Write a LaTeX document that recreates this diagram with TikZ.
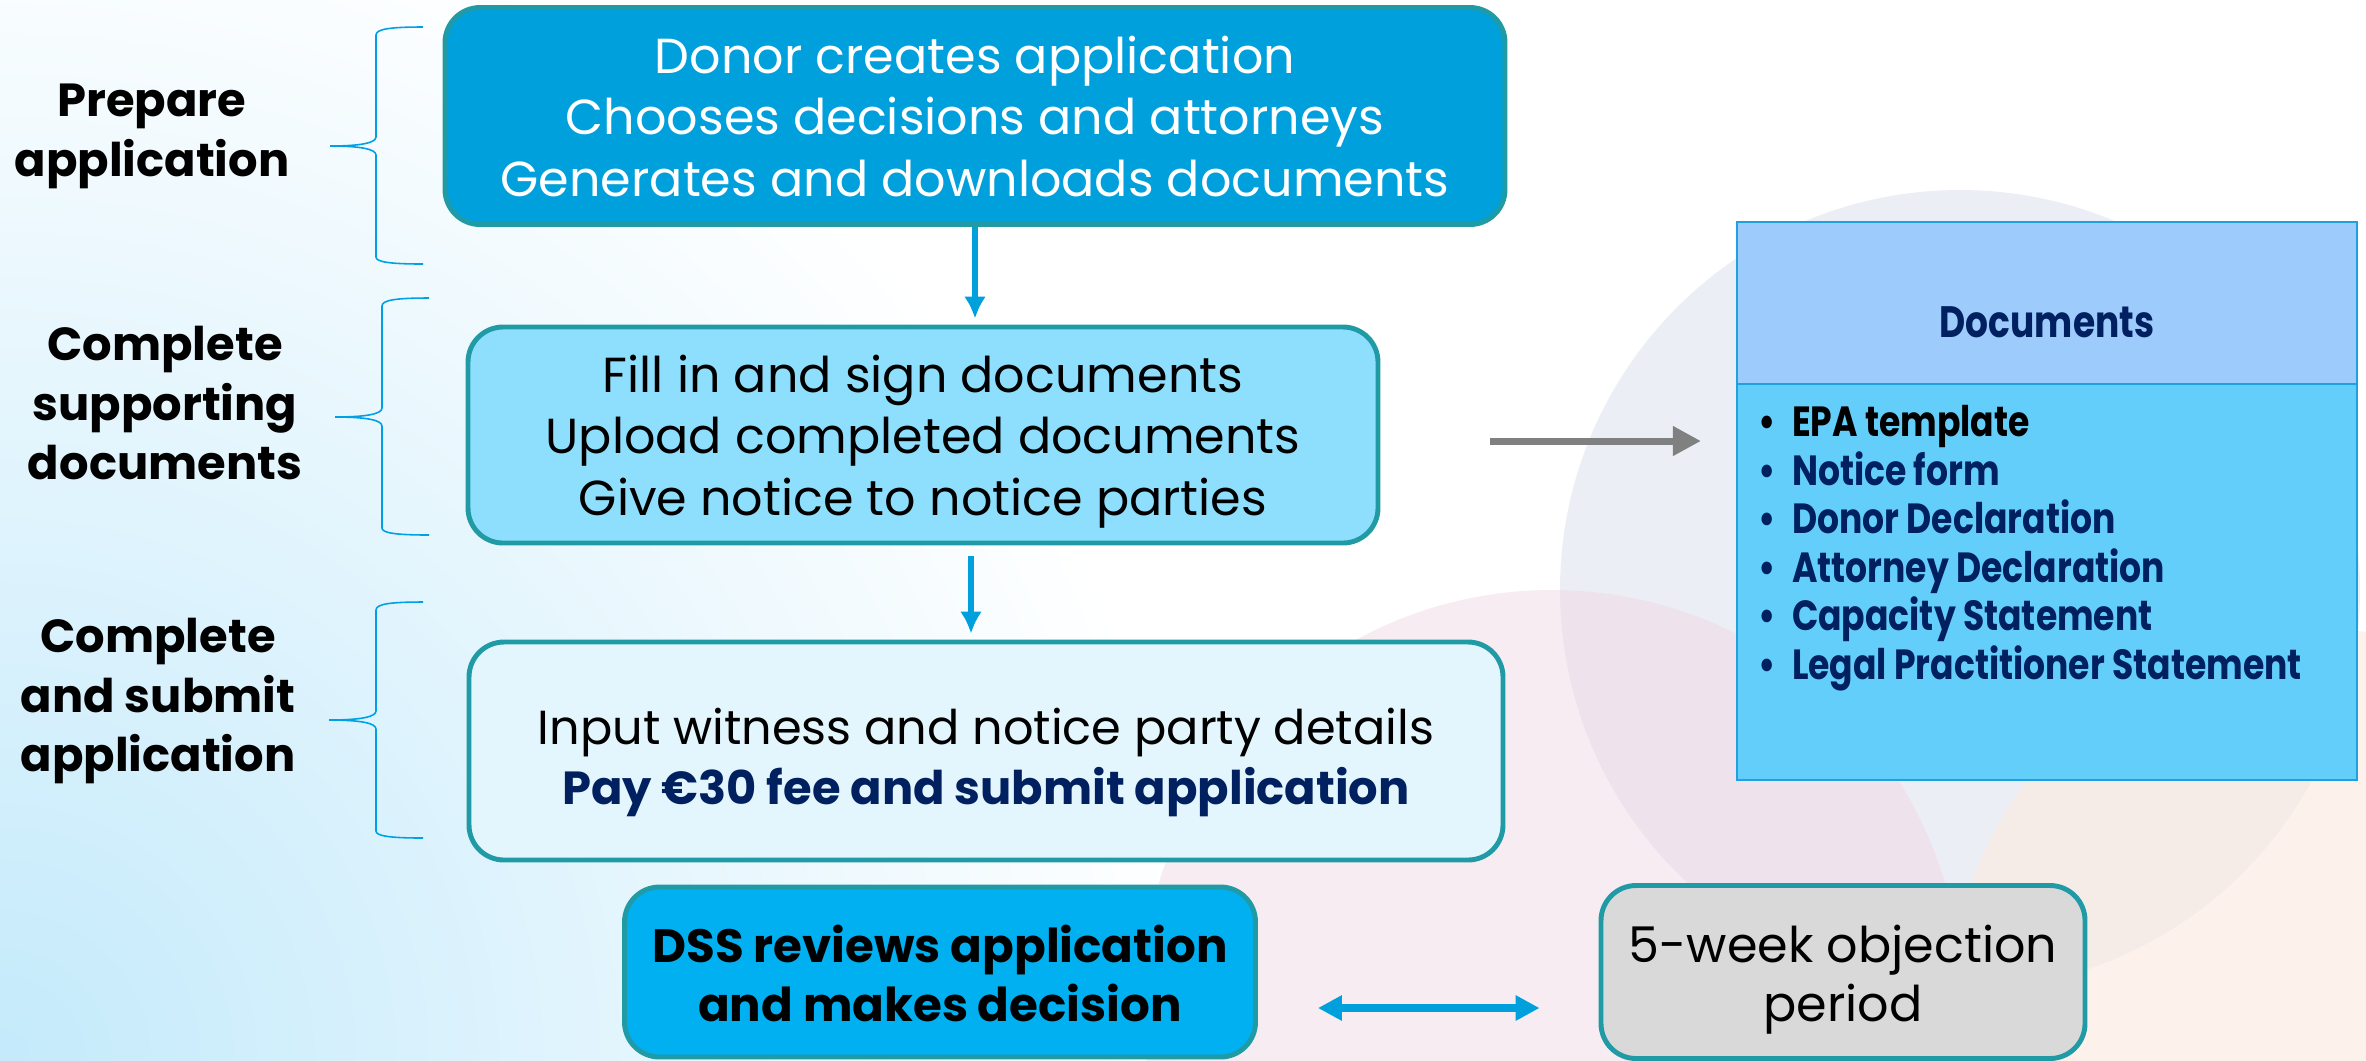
\documentclass[tikz,border=0pt]{standalone}
\usepackage{fontspec}
\setmainfont{Poppins}
\newfontfamily\listfont[FakeStretch=0.82]{Poppins}
\usetikzlibrary{shapes,arrows.meta,positioning}

\definecolor{boxedge}{RGB}{32,155,166}
\definecolor{deepblue}{RGB}{0,160,220}
\definecolor{paleblue}{RGB}{142,223,253}
\definecolor{iceblue}{RGB}{227,245,253}
\definecolor{dssblue}{RGB}{0,176,240}
\definecolor{greyfill}{RGB}{217,217,217}
\definecolor{navy}{RGB}{0,32,96}
\definecolor{headblue}{RGB}{157,203,251}
\definecolor{listblue}{RGB}{100,206,250}
\definecolor{docedge}{RGB}{30,160,225}
\definecolor{bracecol}{RGB}{0,160,230}
\definecolor{bgblue}{RGB}{196,234,251}
\definecolor{bgcircle}{RGB}{228,232,243}
\definecolor{bgpink}{RGB}{240,218,228}
\definecolor{bgpeach}{RGB}{252,234,222}

% pushes the lines of a box down a little
\newcommand{\topgap}[1]{\rule{0pt}{\dimexpr 0.78em+#1\relax}}

\tikzstyle{stage} = [rectangle, draw=boxedge, line width=1.4pt, rounded corners=3.5mm, align=center, font=\fontsize{14}{17.5}\selectfont]
\tikzstyle{phase} = [align=center, font=\bfseries\fontsize{13.2}{17}\selectfont]
\tikzstyle{docbox} = [rectangle, draw=docedge, line width=0.6pt, minimum width=62mm]
\tikzstyle{line} = [draw, deepblue, line width=1.7pt, -{Latex[length=2.2mm,width=2.2mm]}]
\tikzstyle{greyline} = [draw, black!50, line width=2pt, -{Triangle[length=2.8mm,width=2.8mm]}]
\tikzstyle{bracket} = [draw, bracecol, line width=0.45pt]

\begin{document}
\begin{tikzpicture}[x=0.1mm, y=-0.1mm]
	% background
	\fill[white] (0,0) rectangle (2366,1060);
	\useasboundingbox (0,0) rectangle (2366,1060);
	\shade[inner color=bgblue, outer color=white] (0,1060) circle (120mm);
	\fill[bgcircle, opacity=0.7] (1960,590) circle (40mm);
	\fill[bgpink, opacity=0.5] (1552,1000) circle (41mm);
	\fill[bgpeach, opacity=0.6] (2330,1010) circle (38mm);

	\node [stage, fill=deepblue, text=white, minimum width=106mm, minimum height=21.7mm] (create) at (975,116)
	{Donor creates application\\Chooses decisions and attorneys\\Generates and downloads documents};
	\node [stage, fill=paleblue, minimum width=91mm, minimum height=21.6mm, below of=create, node distance=31.9mm, xshift=-5.2mm] (fill)
	{\topgap{1.2mm}Fill in and sign documents\\Upload completed documents\\Give notice to notice parties};
	\node [stage, fill=iceblue, minimum width=103.4mm, minimum height=21.8mm, below of=fill, node distance=31.6mm, xshift=6.3mm, font=\fontsize{13.6}{17.3}\selectfont] (input)
	{\topgap{2.2mm}Input witness and notice party details\\\textcolor{navy}{\bfseries\fontsize{13.2}{17.3}\selectfont Pay €30 fee and submit application}};
	\node [stage, fill=dssblue, font=\bfseries\fontsize{13.3}{16.8}\selectfont, minimum width=63.1mm, minimum height=17mm, below of=input, node distance=22.1mm, xshift=-4.6mm] (dss)
	{\topgap{0.3mm}DSS reviews application\\and makes decision};
	\node [stage, fill=greyfill, font=\fontsize{14}{16.8}\selectfont, minimum width=48.4mm, minimum height=17.3mm, right of=dss, node distance=90.3mm] (objection)
	{\topgap{1.5mm}5-week objection\\period};

	\node [docbox, fill=headblue, minimum height=16.2mm, text=navy, font=\listfont\bfseries\fontsize{12.5}{14}\selectfont] (dochead) at (2047,303) {\topgap{3.6mm}Documents};
	\node [docbox, fill=listblue, minimum height=39.6mm, below of=dochead, node distance=27.9mm] (doclist) {};
	\node [anchor=north west, inner sep=0pt, align=left, text=navy, font=\listfont\bfseries\fontsize{12}{13.8}\selectfont] (items) at (1758,405)
	{\textcolor{black}{•\hspace{1.6mm}EPA template}\\•\hspace{1.6mm}Notice form\\•\hspace{1.6mm}Donor Declaration\\•\hspace{1.6mm}Attorney Declaration\\•\hspace{1.6mm}Capacity Statement\\•\hspace{1.6mm}Legal Practitioner Statement};

	\node [phase] (prep) at (152,136) {Prepare\\application};
	\node [phase] (support) at (165,403) {Complete\\supporting\\documents};
	\node [phase] (submit) at (158,701) {Complete\\and submit\\application};

	% braces
	\draw [bracket] (423,27) .. controls (390,27) and (376,29) .. (376,35) -- (376,137) .. controls (376,143) and (360,146) .. (330,146)
		.. controls (360,146) and (376,149) .. (376,155) -- (376,257) .. controls (376,262) and (390,264) .. (423,264);
	\draw [bracket] (429,298) .. controls (396,298) and (382,300) .. (382,306) -- (382,408) .. controls (382,414) and (366,417) .. (335,417)
		.. controls (366,417) and (382,420) .. (382,426) -- (382,528) .. controls (382,533) and (396,535) .. (429,535);
	\draw [bracket] (423,602) .. controls (390,602) and (376,604) .. (376,610) -- (376,711) .. controls (376,717) and (360,720) .. (329,720)
		.. controls (360,720) and (376,723) .. (376,729) -- (376,831) .. controls (376,836) and (390,838) .. (423,838);

	\path [line, shorten >=0.6mm] (create.south) -- (create.south |- fill.north);
	\path [line, shorten <=1.1mm, shorten >=0.6mm] ([xshift=4.8mm]fill.south) -- ([xshift=4.8mm]fill.south |- input.north);
	\path [greyline, shorten <=11mm, shorten >=3.5mm] ([yshift=-0.6mm]fill.east) -- ([yshift=-0.6mm]fill.east -| doclist.west);
	\path [draw, deepblue, line width=2.2pt, {Triangle[length=2.4mm,width=2.4mm]}-{Triangle[length=2.4mm,width=2.4mm]}, shorten <=6mm, shorten >=5.9mm]
		([yshift=-3.6mm]dss.east) -- ([yshift=-3.6mm]dss.east -| objection.west);
\end{tikzpicture}
\end{document}
